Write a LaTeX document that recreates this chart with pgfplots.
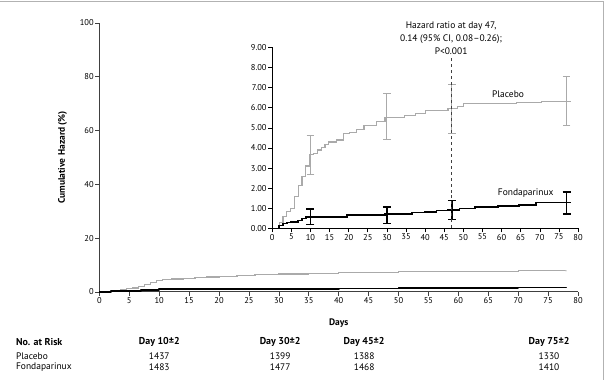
\documentclass[border=0pt]{standalone}
\usepackage{pgfplots}
\pgfplotsset{compat=1.18}
\usepackage{pgfplotstable}
\usepackage{fontspec}
\setmainfont{PT Sans}
\definecolor{pgray}{HTML}{AAAAAA}
\definecolor{axgray}{HTML}{404040}

% main panel
\pgfplotstableread{
x y
0 0
1.5 0.2
2.5 0.5
3.5 0.8
4.5 1.1
5.5 1.4
6.5 2.0
7.5 2.8
8.5 3.4
9.5 4.2
10.5 4.6
12 4.8
14 5.1
16 5.3
18 5.5
20 5.8
23 6.0
26 6.3
30 6.6
35 6.9
40 7.1
45 7.3
50 7.5
55 7.6
60 7.7
70 7.8
78 7.9
}\mainpla
\pgfplotstableread{
x y
0 0
2 0.25
4 0.45
7 0.6
9 0.8
10 0.9
20 1.0
30 1.1
40 1.2
50 1.35
60 1.45
70 1.6
78 1.7
}\mainfon
% inset
\pgfplotstableread{
x y
0 0
1.8 0.3
2.8 0.6
3.8 0.82
4.8 1.0
5.8 1.58
6.8 2.15
7.8 2.57
8.8 3.1
9.8 3.68
10.8 3.73
11.8 3.9
12.8 4.02
13.8 4.18
14.8 4.3
16.8 4.4
18.6 4.73
20.3 4.78
22 4.9
24 5.1
27.3 5.3
29.5 5.52
34.5 5.6
37.5 5.7
40 5.85
46 5.95
48.5 6.05
50 6.2
64 6.25
70.5 6.3
78 6.35
}\inspla
\pgfplotstableread{
x y
0 0
1.8 0.15
2.8 0.25
3.8 0.3
4.8 0.33
6.8 0.4
7.8 0.5
8.8 0.55
9.8 0.57
19.5 0.67
29.5 0.70
32 0.72
36.5 0.78
40 0.82
43 0.88
46 0.92
49 0.98
53 1.05
59 1.1
64.5 1.15
69 1.28
78 1.30
}\insfon
\pgfplotstableread{
x y ep em
10 3.65 0.95 0.95
30 5.55 1.15 1.15
47 5.95 1.2 1.25
77 6.35 1.2 1.25
}\errpla
\pgfplotstableread{
x y ep em
10 0.57 0.40 0.39
30 0.68 0.37 0.43
47 0.92 0.46 0.49
77 1.28 0.52 0.56
}\errfon

\begin{document}
\begin{tikzpicture}[x=1bp,y=1bp]
\path (0,0) rectangle (607,380);
\draw[gray!60, line width=0.8bp] (0,379) -- (603.5,379) -- (603.5,0);

\begin{axis}[
  at={(99bp,88bp)}, anchor=south west, scale only axis,
  width=479bp, height=269bp,
  xmin=0, xmax=80, ymin=0, ymax=100,
  axis x line*=bottom, axis y line*=left,
  xtick={0,5,...,80}, ytick={0,20,...,100},
  tick align=outside, major tick length=4bp,
  tick style={axgray, line width=0.6bp},
  axis line style={axgray, line width=0.8bp},
  ticklabel style={font=\fontsize{8.5}{10}\selectfont, inner sep=1.5pt},
  /pgf/number format/assume math mode=true,
  xlabel={\textbf{Days}},
  ylabel={\textbf{Cumulative Hazard (\%)}},
  label style={font=\fontsize{9.5}{10}\selectfont},
  xlabel style={at={(axis description cs:0.5,-0.115)}, anchor=center},
  ylabel style={at={(axis description cs:-0.077,0.5)}, anchor=center},
  clip=false,
]
\addplot[const plot, pgray, line width=1.2bp] table[x=x,y=y]{\mainpla};
\addplot[const plot, black, line width=1.8bp, line join=round] table[x=x,y=y]{\mainfon};
\end{axis}

\begin{axis}[
  at={(272bp,151.5bp)}, anchor=south west, scale only axis,
  width=306bp, height=181bp,
  xmin=0, xmax=80, ymin=0, ymax=9,
  axis x line*=bottom, axis y line*=left,
  xtick={0,5,...,80}, ytick={0,1,...,9},
  tick align=outside, major tick length=4bp,
  tick style={black, line width=0.6bp},
  axis line style={black, line width=0.9bp},
  ticklabel style={font=\fontsize{8.5}{10}\selectfont, inner sep=1.5pt},
  /pgf/number format/assume math mode=true,
  yticklabel style={/pgf/number format/.cd, fixed, fixed zerofill, precision=2},
  clip=false,
]
\addplot[const plot, pgray, line width=1.2bp] table[x=x,y=y]{\inspla};
\addplot[const plot, black, line width=1.6bp] table[x=x,y=y]{\insfon};
\addplot[forget plot, draw=none, mark=none,
  error bars/.cd, y dir=both, y explicit,
  error bar style={draw=pgray, line width=1.1bp, solid},
  error mark options={draw=pgray, line width=1.1bp, mark size=3.8bp, rotate=90}]
  table[x=x,y=y,y error plus=ep,y error minus=em]{\errpla};
\addplot[forget plot, draw=none, mark=none,
  error bars/.cd, y dir=both, y explicit,
  error bar style={draw=black, line width=1.5bp, solid},
  error mark options={draw=black, line width=1.5bp, mark size=4bp, rotate=90}]
  table[x=x,y=y,y error plus=ep,y error minus=em]{\errfon};
\addplot[black!75, dashed, line width=0.8bp] coordinates {(47,0) (47,8.55)};
\end{axis}

\node[align=center, font=\fontsize{9.5}{13.3}\selectfont] at (451,342) {Hazard ratio at day 47,\\0.14 (95\% CI, 0.08--0.26);\\P<0.001};
\node[font=\fontsize{9.5}{10}\selectfont] at (508,286) {Placebo};
\node[font=\fontsize{9.5}{10}\selectfont] at (525.7,187) {Fondaparinux};

\node[font=\fontsize{10}{11}\selectfont\bfseries, anchor=west, inner sep=0pt] at (15.5,38) {No. at Risk};
\node[font=\fontsize{9.5}{10}\selectfont, anchor=west, inner sep=0pt] at (15.5,24) {Placebo};
\node[font=\fontsize{9.5}{10}\selectfont, anchor=west, inner sep=0pt] at (15.5,13) {Fondaparinux};
\foreach \cx/\lab/\pa/\fo in {159/10/1437/1483, 280/30/1399/1477, 364/45/1388/1468, 549/75/1330/1410}{
  \node[font=\fontsize{10}{11}\selectfont\bfseries, inner sep=0pt] at (\cx,38) {Day \lab±2};
  \node[font=\fontsize{9.5}{10}\selectfont, inner sep=0pt] at (\cx,24) {\pa};
  \node[font=\fontsize{9.5}{10}\selectfont, inner sep=0pt] at (\cx,13) {\fo};
}
\end{tikzpicture}
\end{document}
